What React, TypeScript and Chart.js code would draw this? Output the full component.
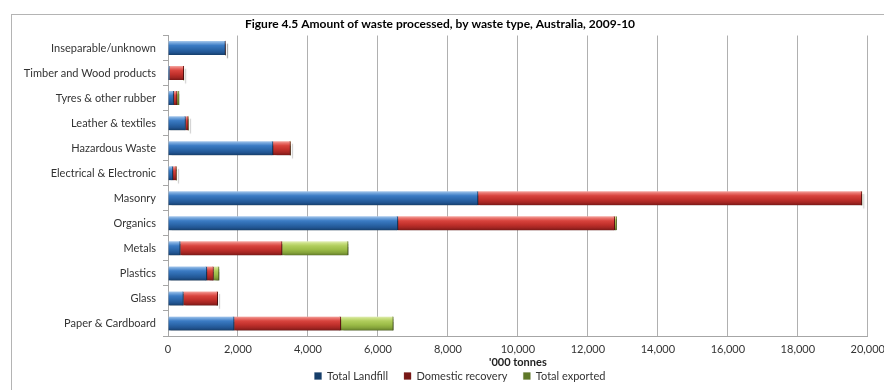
import React, { useEffect, useRef } from 'react';
import { Chart, registerables } from 'chart.js';

Chart.register(...registerables);

const categories = [
  'Inseparable/unknown',
  'Timber and Wood products',
  'Tyres & other rubber',
  'Leather & textiles',
  'Hazardous Waste',
  'Electrical & Electronic',
  'Masonry',
  'Organics',
  'Metals',
  'Plastics',
  'Glass',
  'Paper & Cardboard',
];

const totalLandfill = [1640, 40, 160, 500, 3000, 140, 8860, 6570, 350, 1110, 440, 1890];
const domesticRecovery = [0, 410, 100, 80, 500, 100, 10970, 6200, 2910, 190, 980, 3050];
const totalExported = [0, 0, 55, 0, 0, 0, 0, 50, 1890, 160, 0, 1500];

const seriesNames = ['Total Landfill', 'Domestic recovery', 'Total exported'];
const xMax = 20000;
const xStep = 2000;

const titleText = 'Figure 4.5 Amount of waste processed, by waste type, Australia, 2009-10';
const xTitle = "'000 tonnes";

const FONT = 'Lato';

type Stop = [number, string];
const blueStops: Stop[] = [[0, '#a7c8ec'], [0.15, '#6fa2da'], [0.32, '#3b7bc4'], [0.6, '#2b66a9'], [0.82, '#215491'], [1, '#163e6a']];
const redStops: Stop[] = [[0, '#f5a8a2'], [0.15, '#e8706a'], [0.32, '#d8433d'], [0.6, '#c0302b'], [0.82, '#a22522'], [1, '#781816']];
const greenStops: Stop[] = [[0, '#e3efb8'], [0.15, '#c8de80'], [0.32, '#b0cd5c'], [0.6, '#9bbb47'], [0.82, '#84a23a'], [1, '#5f7828']];

const BAR = 14;

function gradientFill(stops: Stop[], solid: string) {
  return (ctx: any) => {
    if (ctx.type !== 'data') return solid;
    const chart = ctx.chart;
    const yScale = chart.scales && chart.scales.y;
    if (!yScale) return solid;
    const c = yScale.getPixelForValue(ctx.dataIndex);
    if (!isFinite(c)) return solid;
    const g = chart.ctx.createLinearGradient(0, c - BAR / 2, 0, c + BAR / 2);
    stops.forEach(([p, col]) => g.addColorStop(p, col));
    return g;
  };
}

const shadowPlugin = {
  id: 'barShadow',
  beforeDatasetsDraw(chart: any) {
    const c = chart.ctx;
    c.save();
    c.shadowColor = 'rgba(0,0,0,0.33)';
    c.shadowBlur = 1;
    c.shadowOffsetX = 2;
    c.shadowOffsetY = 3;
  },
  afterDatasetsDraw(chart: any) {
    chart.ctx.restore();
  },
};

const placePlugin = {
  id: 'place',
  afterLayout(chart: any) {
    const lg = chart.legend;
    if (lg) {
      const dx = 18;
      lg.left += dx;
      lg.right += dx;
      const dy = chart.chartArea.bottom + 18.5 - lg.top;
      lg.top += dy;
      lg.bottom += dy;
    }
    const t = chart.titleBlock;
    if (t) {
      t.left -= 2;
      t.right -= 2;
    }
  },
};

export default function App() {
  const ref = useRef<HTMLCanvasElement>(null);

  useEffect(() => {
    document.documentElement.style.overflow = 'hidden';
    const canvas = ref.current;
    if (!canvas) return;
    const tickFont = { family: FONT, size: 11 };
    const chart = new Chart(canvas, {
      type: 'bar',
      data: {
        labels: categories,
        datasets: [
          {
            label: seriesNames[0],
            data: totalLandfill,
            backgroundColor: gradientFill(blueStops, '#2c69ae'),
            borderColor: '#163e6a',
            borderWidth: { left: 0, right: 1, top: 0, bottom: 0 },
            borderSkipped: false,
            barThickness: BAR,
          },
          {
            label: seriesNames[1],
            data: domesticRecovery,
            backgroundColor: gradientFill(redStops, '#c0302b'),
            borderColor: '#6e1414',
            borderWidth: { left: 0, right: 1, top: 0, bottom: 0 },
            borderSkipped: false,
            barThickness: BAR,
          },
          {
            label: seriesNames[2],
            data: totalExported,
            backgroundColor: gradientFill(greenStops, '#9bbb47'),
            borderColor: '#55691f',
            borderWidth: { left: 0, right: 1, top: 0, bottom: 0 },
            borderSkipped: false,
            barThickness: BAR,
          },
        ],
      },
      options: {
        indexAxis: 'y',
        animation: false,
        responsive: false,
        maintainAspectRatio: false,
        layout: { padding: { left: 0, right: 20, top: 0, bottom: 0 } },
        scales: {
          x: {
            stacked: true,
            min: 0,
            max: xMax,
            ticks: {
              stepSize: xStep,
              padding: 7,
              color: '#333',
              font: tickFont,
              maxRotation: 0,
              callback: (v: any) => Number(v).toLocaleString('en-US'),
            },
            grid: { color: '#b0b0b0', drawTicks: false },
            border: { color: '#a6a6a6' },
            title: {
              display: true,
              text: xTitle,
              color: '#222',
              font: { family: FONT, size: 11, weight: 'bold' },
              padding: { top: 0, bottom: 1.4 },
            },
            afterFit: (s: any) => {
              s.height = 34;
            },
          },
          y: {
            stacked: true,
            ticks: { padding: 7, color: '#333', font: tickFont },
            grid: { drawOnChartArea: false, tickLength: 5, color: '#a6a6a6', offset: true },
            border: { color: '#a6a6a6' },
            afterFit: (s: any) => {
              s.width = 156;
            },
          },
        },
        plugins: {
          title: {
            display: true,
            text: titleText,
            color: '#000',
            font: { family: FONT, size: 12, weight: 'bold' },
            padding: { top: 2, bottom: 4.1 },
          },
          legend: {
            position: 'bottom',
            labels: {
              boxWidth: 7,
              boxHeight: 7,
              padding: 16,
              color: '#333',
              font: tickFont,
            },
          },
          tooltip: { enabled: false },
        },
      },
      plugins: [shadowPlugin, placePlugin],
    } as any);
    return () => chart.destroy();
  }, []);

  return (
    <div style={{ padding: '6px 0 0 3px' }}>
      <div style={{ borderLeft: '1px solid #b4b4b4', borderTop: '1px solid #b4b4b4', width: 880 }}>
        <canvas ref={ref} width={880} height={392} style={{ display: 'block', width: 880, height: 392 }} />
      </div>
    </div>
  );
}
